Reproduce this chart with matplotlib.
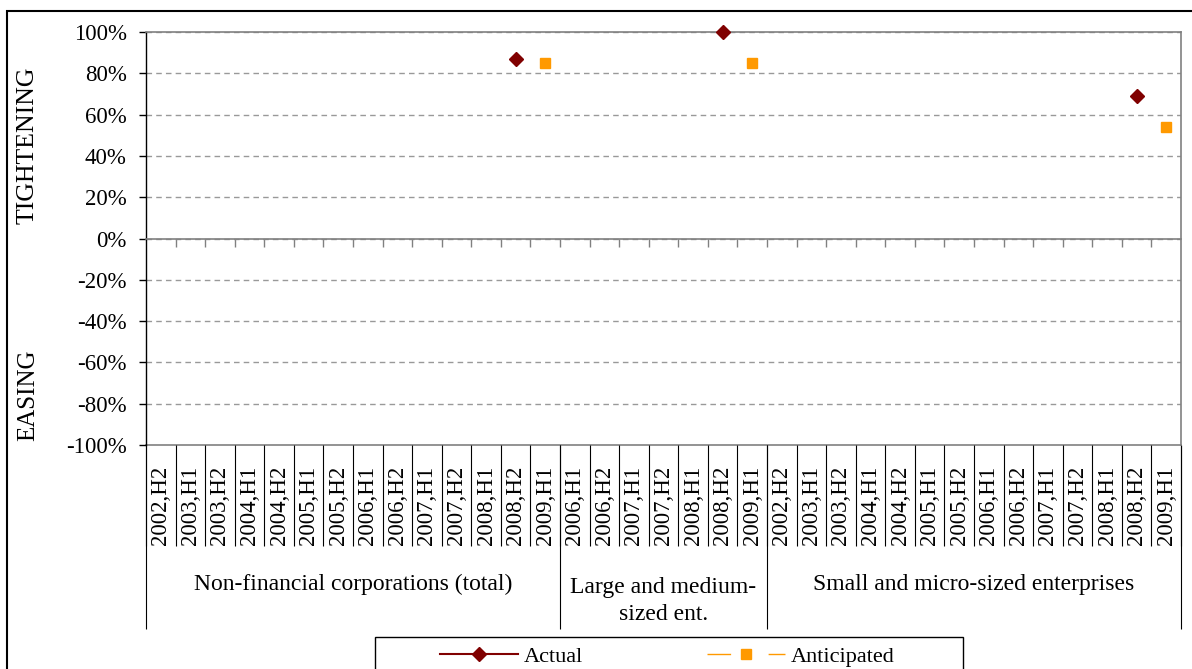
import numpy as np
import matplotlib.pyplot as plt
from matplotlib.patches import Rectangle
from matplotlib.ticker import FuncFormatter

plt.rcParams['font.family'] = ['Liberation Serif', 'DejaVu Serif']
plt.rcParams['axes.unicode_minus'] = False

# Categories (half-years) for each borrower group
periods_total = ['2002,H2', '2003,H1', '2003,H2', '2004,H1', '2004,H2', '2005,H1', '2005,H2',
                 '2006,H1', '2006,H2', '2007,H1', '2007,H2', '2008,H1', '2008,H2', '2009,H1']
periods_large = ['2006,H1', '2006,H2', '2007,H1', '2007,H2', '2008,H1', '2008,H2', '2009,H1']
periods_small = ['2002,H2', '2003,H1', '2003,H2', '2004,H1', '2004,H2', '2005,H1', '2005,H2',
                 '2006,H1', '2006,H2', '2007,H1', '2007,H2', '2008,H1', '2008,H2', '2009,H1']
group_names = ['Non-financial corporations (total)', 'Large and medium-\nsized ent.',
               'Small and micro-sized enterprises']

# Net share of banks (only the latest survey rounds are reported)
actual_period = '2008,H2'
anticipated_period = '2009,H1'
actual_values = [0.87, 1.00, 0.69]
anticipated_values = [0.85, 0.85, 0.54]

groups = [periods_total, periods_large, periods_small]
labels = periods_total + periods_large + periods_small
n = len(labels)
x = np.arange(n)

# build full series with gaps (NaN) like the spreadsheet
actual = np.full(n, np.nan)
anticipated = np.full(n, np.nan)
offset = 0
group_edges = [0]
for g, periods in enumerate(groups):
    actual[offset + periods.index(actual_period)] = actual_values[g]
    anticipated[offset + periods.index(anticipated_period)] = anticipated_values[g]
    offset += len(periods)
    group_edges.append(offset)
group_edges = np.array(group_edges)

W, H = 1192, 669
fig = plt.figure(figsize=(W / 100, H / 100), dpi=100)
ax = fig.add_axes([146 / W, 1 - 445 / H, (1181 - 146) / W, (445 - 32) / H])

ax.plot(x, actual, color='#800000', lw=1.5, marker='D', ms=6.8, label='Actual',
        zorder=5, clip_on=False)
ax.plot(x, anticipated, color='#FF9900', lw=1, ls=(0, (17, 27)), marker='s', ms=7.5,
        label='Anticipated', zorder=5, clip_on=False)

ax.set_xlim(-0.5, n - 0.5)
ax.set_ylim(-1, 1)
ax.set_yticks(np.arange(-1, 1.01, 0.2))
ax.yaxis.set_major_formatter(FuncFormatter(lambda v, p: f'{int(round(v * 100))}%'))
ax.tick_params(axis='y', direction='out', length=5, width=1, color='black', labelsize=16.5, pad=9)
ax.grid(axis='y', color='#999999', lw=1, ls=(0, (4, 3)))
ax.set_axisbelow(True)

for side in ['top', 'right']:
    ax.spines[side].set_color('#808080')
    ax.spines[side].set_linewidth(1.2)
ax.spines['left'].set_color('black')
ax.spines['left'].set_linewidth(1)

# zero line with category boundary ticks
ax.spines['bottom'].set_position(('data', 0))
ax.spines['bottom'].set_color('#808080')
ax.spines['bottom'].set_linewidth(1.2)
ax.set_xticks(np.arange(0.5, n - 1, 1))
ax.tick_params(axis='x', direction='out', length=5.5, width=1, color='#808080', labelbottom=False)

# category labels below the plot area
sec = ax.secondary_xaxis('bottom')
sec.set_xticks(x, labels=labels, rotation=90)
sec.tick_params(axis='x', length=0, pad=15, labelsize=16.5)
sec.spines['bottom'].set_color('#808080')
sec.spines['bottom'].set_linewidth(1.2)

bounds = np.arange(-0.5, n, 1)
ax.vlines(bounds, -0.245, 0, transform=ax.get_xaxis_transform(), clip_on=False,
          color='black', lw=0.8)
ax.vlines(group_edges - 0.5, -0.446, 0, transform=ax.get_xaxis_transform(), clip_on=False,
          color='black', lw=0.8)
for g, name in enumerate(group_names):
    center = (group_edges[g] + group_edges[g + 1] - 1) / 2
    ypos = -0.377 if '\n' in name else -0.337
    ax.text(center, ypos, name, transform=ax.get_xaxis_transform(), ha='center', va='center',
            fontsize=17, linespacing=1.4)

fig.text(28 / W, 1 - 145 / H, 'TIGHTENING', rotation=90, ha='center', va='center', fontsize=18.5)
fig.text(28 / W, 1 - 395 / H, 'EASING', rotation=90, ha='center', va='center', fontsize=18)

# legend box (cut at the bottom edge)
fig.add_artist(Rectangle((375 / W, -0.1), (963 - 375) / W, 0.1 + 1 - 637 / H,
                         transform=fig.transFigure, fill=False, ec='black', lw=1))
fig.legend(loc='center left', bbox_to_anchor=(440 / W, 1 - 657 / H), ncol=2, frameon=False,
           fontsize=16, borderpad=0, borderaxespad=0, handlelength=3.5, handletextpad=0.25,
           columnspacing=5.6)

# outer chart frame
fig.add_artist(Rectangle((7 / W, -0.5), 2, 0.5 + 1 - 11 / H, transform=fig.transFigure,
                         fill=False, ec='black', lw=1.5))

fig.savefig('out.png', dpi=100)
